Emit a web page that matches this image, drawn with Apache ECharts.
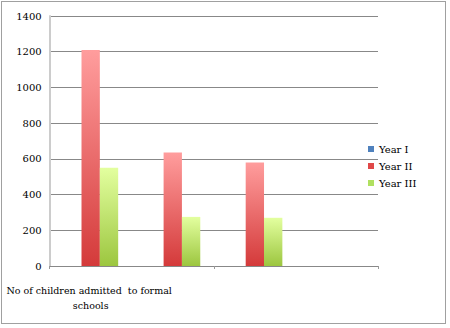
<!DOCTYPE html>
<html><head><meta charset="utf-8">
<script src="https://cdn.jsdelivr.net/npm/echarts@6/dist/echarts.min.js"></script>
<style>html,body{margin:0;padding:0;background:#fff}#c{position:absolute;left:1px;top:1px;width:445px;height:323px;border:1px solid #a0a0a0;box-sizing:border-box}#w{width:450px;height:328px;position:relative}</style>
</head><body><div id="w"><div id="c"></div></div>
<script>
const categories = ["No of children admitted  to formal schools", "No of Girls", "No of Boys", ""];
const seriesNames = ["Year I", "Year II", "Year III"];
const yearI = [0, 0, 0, null];
const yearII = [1210, 635, 580, null];
const yearIII = [550, 275, 270, null];
const yTicks = [0, 200, 400, 600, 800, 1000, 1200, 1400];

const chart = echarts.init(document.getElementById('c'), null, {renderer: 'svg'});
const grad = (top, bottom) => new echarts.graphic.LinearGradient(0, 0, 0, 1, [{offset: 0, color: top}, {offset: 1, color: bottom}]);
const font = 'DejaVu Serif';
chart.setOption({
  animation: false,
  textStyle: {fontFamily: font},
  grid: {left: 45, right: 67, top: 14, bottom: 57, containLabel: false},
  legend: {
    orient: 'vertical', left: 361, top: 137, itemWidth: 6, itemHeight: 6, itemGap: 7, itemTextGap: 3,
    icon: 'rect', textStyle: {fontFamily: font, fontSize: 10, color: '#000'},
    data: [
      {name: seriesNames[0], itemStyle: {color: '#4f81bd'}},
      {name: seriesNames[1], itemStyle: {color: '#e04848'}},
      {name: seriesNames[2], itemStyle: {color: '#b0e060'}}
    ]
  },
  xAxis: {
    type: 'category', data: categories,
    axisLine: {lineStyle: {color: '#888'}},
    axisTick: {show: true, length: 3, lineStyle: {color: '#999'}},
    axisLabel: {interval: 1, showMinLabel: true, hideOverlap: false, color: '#000', fontSize: 9.5, fontFamily: font, width: 172, overflow: 'break', lineHeight: 15, margin: 17}
  },
  yAxis: {
    type: 'value', min: 0, max: yTicks[yTicks.length - 1], interval: 200,
    axisLine: {show: true, lineStyle: {color: '#ccc', width: 2}},
    axisTick: {show: false},
    axisLabel: {color: '#000', fontSize: 10, fontFamily: font, margin: 8, formatter: v => String(v)},
    splitLine: {lineStyle: {color: '#888'}}
  },
  series: [
    {name: seriesNames[0], type: 'bar', data: yearI, barGap: '0%', barCategoryGap: '33%', itemStyle: {color: '#4f81bd'}},
    {name: seriesNames[1], type: 'bar', data: yearII, itemStyle: {color: grad('#ff9d9d', '#d43a3a')}},
    {name: seriesNames[2], type: 'bar', data: yearIII, itemStyle: {color: grad('#e3ff9f', '#9cc63f')}}
  ]
});
</script></body></html>
